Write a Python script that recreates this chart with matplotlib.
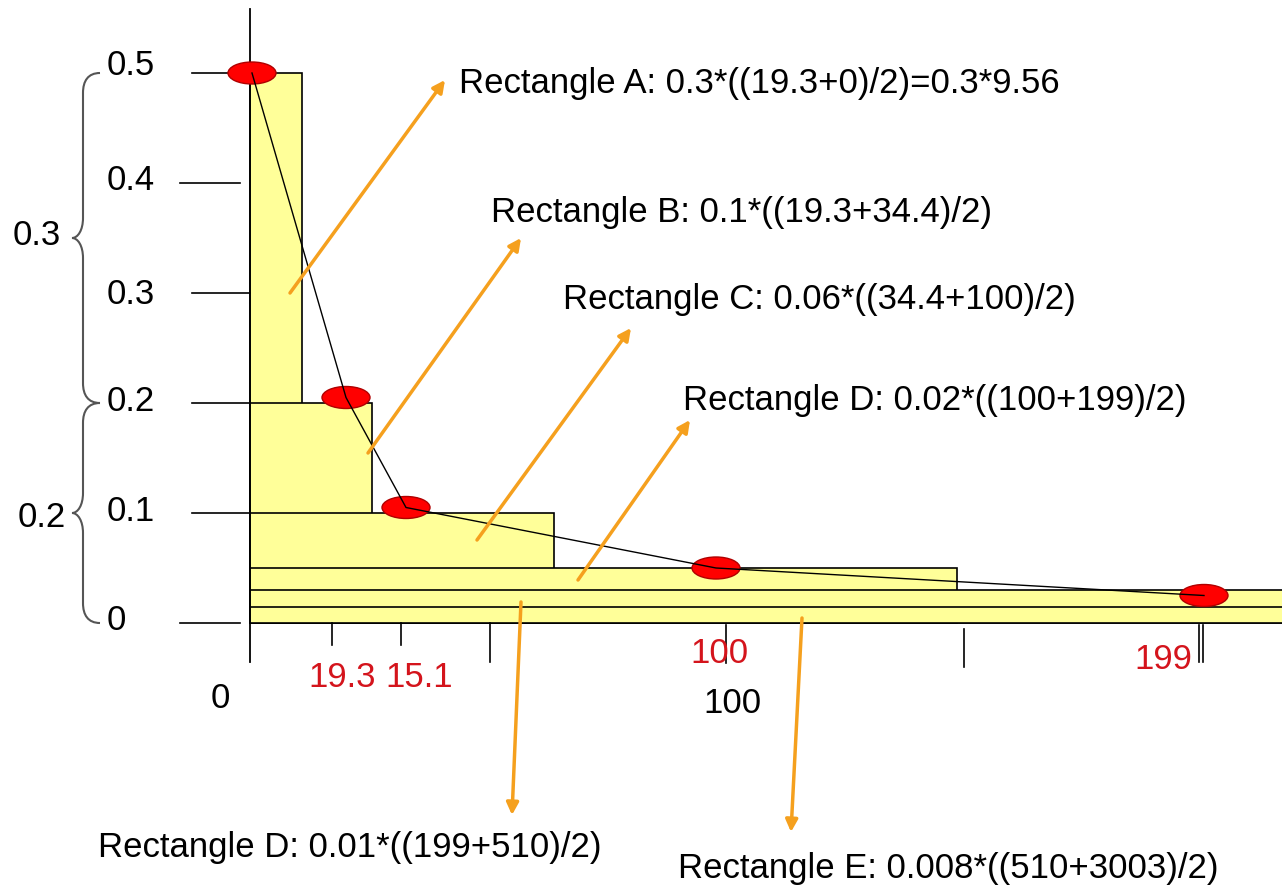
import matplotlib.pyplot as plt
from matplotlib.patches import Rectangle, Ellipse, PathPatch
from matplotlib.path import Path

plt.rcParams['font.family'] = ['Liberation Sans', 'DejaVu Sans']

# Schematic data (x in diagram units, y in probability)
bar_heights = [0.5, 0.2, 0.1, 0.05, 0.03, 0.015]
bar_right = [52, 122, 304, 707, 1040, 1040]
point_x = [2, 96, 156, 466, 954]
point_y = [0.5, 0.205, 0.105, 0.05, 0.025]
y_ticks = [0, 0.1, 0.2, 0.3, 0.4, 0.5]
y_tick_labels = ['0', '0.1', '0.2', '0.3', '0.4', '0.5']
brace_spans = [(0.2, 0.5), (0.0, 0.2)]
brace_labels = ['0.3', '0.2']
x_tick_pos = [82, 151, 240, 476, 714, 949, 953]
red_labels = ['19.3', '15.1', '100', '199']
black_labels = ['0', '100']
rect_texts = ['Rectangle A: 0.3*((19.3+0)/2)=0.3*9.56',
              'Rectangle B: 0.1*((19.3+34.4)/2)',
              'Rectangle C: 0.06*((34.4+100)/2)',
              'Rectangle D: 0.02*((100+199)/2)',
              'Rectangle D: 0.01*((199+510)/2)',
              'Rectangle E: 0.008*((510+3003)/2)']

# pixel -> data helpers for layout only
def X(px):
    return px - 250

def Y(py):
    return (623 - py) / 1100.0

fig = plt.figure(figsize=(12.82, 8.88), dpi=100)
ax = fig.add_axes([0, 0, 1, 1])
ax.set_xlim(X(0), X(1282))
ax.set_ylim(Y(888), Y(0))
ax.axis('off')

yellow = '#ffff99'
orange = '#f5a01e'
red_txt = '#d4141c'
fs = 25

# stacked rectangles, tallest first
for h, r in zip(bar_heights, bar_right):
    ax.add_patch(Rectangle((0, 0), r, h, facecolor=yellow, edgecolor='black', lw=1.2, zorder=2))

# vertical axis
ax.plot([0, 0], [Y(9), Y(662)], color='black', lw=1.3, zorder=3)

# y ticks and labels
tick_left = {0: 180, 0.4: 180}
for v, lab in zip(y_ticks, y_tick_labels):
    left = tick_left.get(v, 192)
    right = 240 if left == 180 else 250
    ax.plot([X(left), X(right)], [v, v], color='black', lw=1.2, zorder=3)
base_off = [7, 8, 8, 11, 7, 2]
for v, lab, off in zip(y_ticks, y_tick_labels, base_off):
    ax.text(X(107), v - off / 1100.0, lab, fontsize=fs, ha='left', va='baseline')

# braces
def brace(y0, y1):
    xe, xl, xt = X(100), X(83), X(72)
    ym = (y0 + y1) / 2
    d = 20 / 1100.0
    k = 8 / 1100.0
    verts = [(xe, y1), (X(88), y1), (xl, y1 - k), (xl, y1 - d),
             (xl, ym + d),
             (xl, ym + k), (X(78), ym), (xt, ym),
             (X(78), ym), (xl, ym - k), (xl, ym - d),
             (xl, y0 + d),
             (xl, y0 + k), (X(88), y0), (xe, y0)]
    codes = [Path.MOVETO, Path.CURVE4, Path.CURVE4, Path.CURVE4,
             Path.LINETO,
             Path.CURVE4, Path.CURVE4, Path.CURVE4,
             Path.CURVE4, Path.CURVE4, Path.CURVE4,
             Path.LINETO,
             Path.CURVE4, Path.CURVE4, Path.CURVE4]
    ax.add_patch(PathPatch(Path(verts, codes), facecolor='none', edgecolor='#555555', lw=1.5))

for (y0, y1), lab in zip(brace_spans, brace_labels):
    brace(y0, y1)
ax.text(X(13), Y(245), brace_labels[0], fontsize=fs, ha='left', va='baseline')
ax.text(X(18), Y(527), brace_labels[1], fontsize=fs, ha='left', va='baseline')

# x tick marks below the axis
tick_ends = [(623, 645), (623, 645), (623, 662), (625, 663), (629, 667), (625, 662), (625, 662)]
for xp, (t, b) in zip(x_tick_pos, tick_ends):
    ax.plot([xp, xp], [Y(t), Y(b)], color='black', lw=1.2, zorder=3)

# red and black x labels
red_pos = [(308, 687), (385, 687), (690, 663), (1134, 669)]
for lab, (xp, yp) in zip(red_labels, red_pos):
    ax.text(X(xp), Y(yp), lab, fontsize=fs, color=red_txt, ha='left', va='baseline')
black_pos = [(211, 708), (703, 713)]
for lab, (xp, yp) in zip(black_labels, black_pos):
    ax.text(X(xp), Y(yp), lab, fontsize=fs, ha='left', va='baseline')

# curve and points
ax.plot(point_x, point_y, color='black', lw=1.0, zorder=5)
for x, y in zip(point_x, point_y):
    ax.add_patch(Ellipse((x, y), 48, 22 / 1100.0, facecolor='#ff0000', edgecolor='#b00000', lw=1, zorder=4))

# arrows and rectangle labels
arrows = [((290, 293), (445, 80)), ((368, 453), (521, 238)), ((477, 540), (631, 328)),
          ((578, 580), (690, 420)), ((521, 602), (512, 815)), ((802, 618), (791, 832))]
for (s, e) in arrows:
    ax.annotate('', xy=(X(e[0]), Y(e[1])), xytext=(X(s[0]), Y(s[1])),
                arrowprops=dict(arrowstyle='-|>', color=orange, lw=2.5, mutation_scale=18,
                                shrinkA=0, shrinkB=0), zorder=6)

text_pos = [(459, 93), (491, 222), (563, 309), (683, 410), (98, 857), (678, 878)]
for t, (xp, yp) in zip(rect_texts, text_pos):
    ax.text(X(xp), Y(yp), t, fontsize=fs, ha='left', va='baseline')

plt.savefig('out.png', dpi=100, facecolor='white')
